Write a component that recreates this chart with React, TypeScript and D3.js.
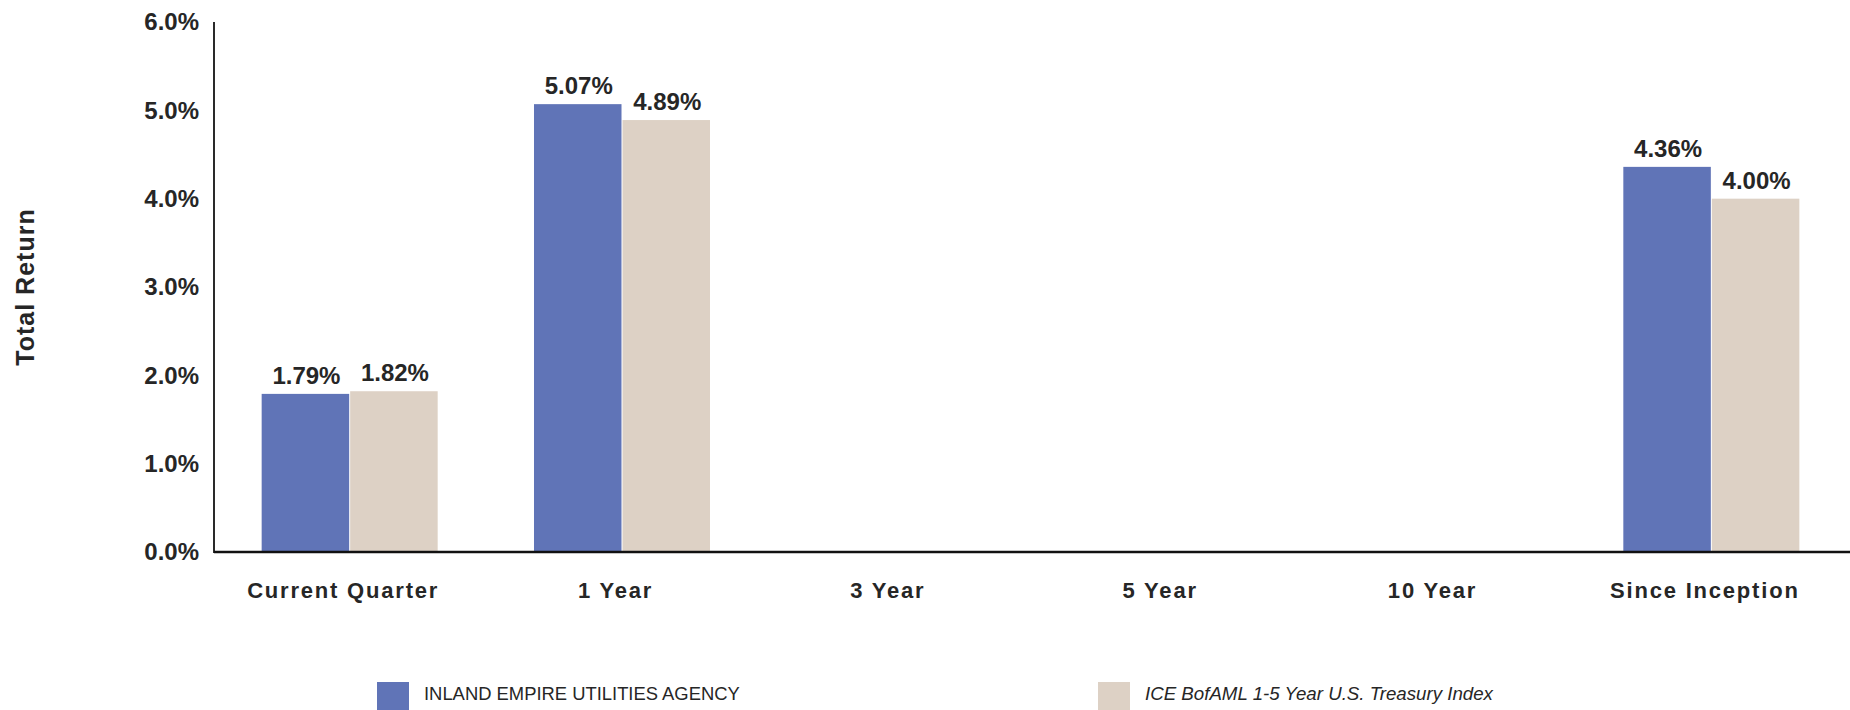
import React from "react";
import * as d3 from "d3";

const categories = ["Current Quarter", "1 Year", "3 Year", "5 Year", "10 Year", "Since Inception"];
const agencyValues: (number | null)[] = [1.79, 5.07, null, null, null, 4.36];
const indexValues: (number | null)[] = [1.82, 4.89, null, null, null, 4.0];
const seriesNames = ["INLAND EMPIRE UTILITIES AGENCY", "ICE BofAML 1-5 Year U.S. Treasury Index"];
const yTicks = [0, 1, 2, 3, 4, 5, 6];

const W = 1850;
const H = 710;
const FONT = "'Liberation Sans', Arial, Helvetica, sans-serif";
const TEXT = "#262626";
const BLUE = "#6074b7";
const BEIGE = "#ddd1c5";

export default function App() {
  const x = d3.scaleBand<string>().domain(categories).range([214, 1848]).padding(0);
  const bw = x.bandwidth();
  const inner = d3
    .scaleBand<string>()
    .domain(["agency", "index"])
    .range([0.175 * bw, 0.825 * bw])
    .padding(0);
  const y = d3.scaleLinear().domain([0, 6]).range([552, 22]);
  const series = [
    { key: "agency", values: agencyValues, color: BLUE },
    { key: "index", values: indexValues, color: BEIGE },
  ];

  return (
    <svg
      width={W}
      height={H}
      viewBox={`0 0 ${W} ${H}`}
      style={{ position: "absolute", left: 0, top: 0, background: "#fff" }}
    >
      <rect x={0} y={0} width={W} height={H} fill="#fff" />
      {/* y axis title */}
      <text
        transform={`translate(34,287) rotate(-90)`}
        textAnchor="middle"
        fontFamily={FONT}
        fontWeight="bold"
        fontSize={25}
        letterSpacing={1}
        fill={TEXT}
      >
        Total Return
      </text>
      {/* y tick labels */}
      {yTicks.map((t) => (
        <text
          key={t}
          x={199}
          y={y(t)}
          dy="0.35em"
          textAnchor="end"
          fontFamily={FONT}
          fontWeight="bold"
          fontSize={24}
          fill={TEXT}
        >
          {d3.format(".1f")(t) + "%"}
        </text>
      ))}
      {/* bars */}
      {series.map((s) =>
        categories.map((c, i) => {
          const v = s.values[i];
          if (v == null) return null;
          const bx = (x(c) as number) + (inner(s.key) as number);
          const w = inner.bandwidth() - 1;
          return (
            <g key={s.key + c}>
              <rect x={bx} y={y(v)} width={w} height={y(0) - y(v)} fill={s.color} />
              <text
                x={bx + w / 2 + 1}
                y={y(v) - 10}
                textAnchor="middle"
                fontFamily={FONT}
                fontWeight="bold"
                fontSize={24}
                fill={TEXT}
              >
                {d3.format(".2f")(v) + "%"}
              </text>
            </g>
          );
        })
      )}
      {/* axes */}
      <line x1={214} x2={214} y1={22} y2={553} stroke="#2a2a2a" strokeWidth={2} />
      <line x1={214} x2={W} y1={552} y2={552} stroke="#111" strokeWidth={2.4} />
      {/* x labels */}
      {categories.map((c) => (
        <text
          key={c}
          x={(x(c) as number) + bw / 2 - 7}
          y={598}
          textAnchor="middle"
          fontFamily={FONT}
          fontWeight="bold"
          fontSize={22}
          letterSpacing={1.8}
          fill={TEXT}
        >
          {c}
        </text>
      ))}
      {/* legend */}
      <rect x={377} y={682} width={32} height={32} fill={BLUE} />
      <text x={424} y={700} fontFamily={FONT} fontSize={18.4} fill={TEXT}>
        {seriesNames[0]}
      </text>
      <rect x={1098} y={682} width={32} height={32} fill={BEIGE} />
      <text x={1145} y={700} fontFamily={FONT} fontSize={18.7} fontStyle="italic" fill={TEXT}>
        {seriesNames[1]}
      </text>
    </svg>
  );
}
